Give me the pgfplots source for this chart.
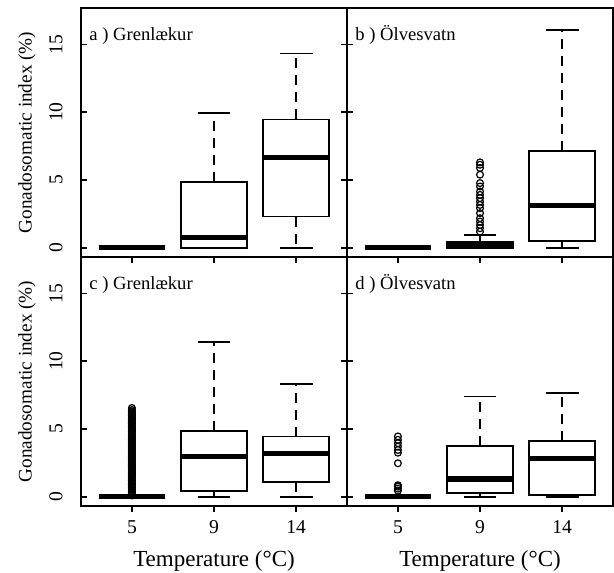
\documentclass[border=0pt]{standalone}
\usepackage{fontspec}
\setmainfont{Liberation Serif}
\usepackage{pgfplots}
\pgfplotsset{compat=1.18}
\usepgfplotslibrary{statistics}

\pgfplotsset{
  gsi/.style={
    scale only axis, width=133pt, height=124.5pt, anchor=south west,
    xmin=0.38, xmax=3.62, ymin=-0.68, ymax=17.68,
    xtick={1,2,3}, xticklabels={5,9,14},
    ytick={0,5,10,15},
    tick align=inside, major tick length=2.8pt,
    axis line style={line width=0.9pt},
    every tick/.style={black, line width=0.8pt},
    every major x tick/.append style={yshift=-2.8pt},
    xtick pos=bottom,
    tick label style={font=\fontsize{9.8}{11}\selectfont},
    /pgf/number format/assume math mode=true,
    yticklabel style={rotate=90, anchor=south, inner sep=0pt, yshift=9pt},
    xticklabel style={anchor=base, inner sep=0pt, yshift=-13.5pt},
    every axis y label/.style={at={(axis description cs:-0.203,0.5)}, rotate=90,
      anchor=center, font=\fontsize{9.6}{11}\selectfont},
    every axis x label/.style={at={(axis description cs:0.5,0)}, anchor=base,
      yshift=-30.3pt, font=\fontsize{11.5}{13}\selectfont},
    boxplot/draw direction=y,
    boxplot/box extend=0.8,
    boxplot/whisker extend=0,
    boxplot/every box/.style={draw=black, line width=0.85pt, fill=white},
    boxplot/every median/.style={draw=black, line width=2.6pt},
    boxplot/every whisker/.style={draw=black, line width=0.75pt, dash pattern=on 5pt off 3.5pt},
  },
  outl/.style={black, mark=o, mark size=1.7pt, mark options={line width=0.6pt, solid}},
  caps/.style={only marks, black, mark=-, mark size=8.2pt, mark options={line width=0.85pt, solid}},
}
\tikzset{plab/.style={anchor=base west, inner sep=0pt, xshift=4pt, yshift=-16.3pt,
    font=\fontsize{9.3}{11}\selectfont}}

\begin{document}
\begin{tikzpicture}
\path[use as bounding box] (0,0) rectangle (307pt,286pt);

% a) Grenlaekur, upper row
\begin{axis}[gsi, at={(40.5pt,157.5pt)}, ytick pos=both, xticklabels={},
  ylabel={Gonadosomatic index (\%)}]
\addplot[boxplot prepared={draw position=1, lower whisker=0, lower quartile=0,
  median=0, upper quartile=0, upper whisker=0}] coordinates {};
\addplot[boxplot prepared={draw position=2, lower whisker=0, lower quartile=0,
  median=0.77, upper quartile=4.87, upper whisker=9.95}] coordinates {};
\addplot[boxplot prepared={draw position=3, lower whisker=0, lower quartile=2.30,
  median=6.67, upper quartile=9.46, upper whisker=14.33}] coordinates {};
\addplot[caps] coordinates {(2,0) (2,9.95) (3,0) (3,14.33)};
\node[plab] at (rel axis cs:0,1) {a ) Grenlækur};
\end{axis}

% b) Olvesvatn, upper row
\begin{axis}[gsi, at={(173.5pt,157.5pt)}, ytick pos=left, yticklabels={}, xticklabels={}]
\addplot[boxplot prepared={draw position=1, lower whisker=0, lower quartile=0,
  median=0, upper quartile=0, upper whisker=0}] coordinates {};
\addplot[outl, boxplot prepared={draw position=2, lower whisker=0, lower quartile=0,
  median=0.15, upper quartile=0.4, upper whisker=0.94}]
  table[row sep=\\, y index=0] {
  1.19\\ 1.44\\ 1.68\\ 1.93\\ 2.18\\ 2.55\\ 2.92\\ 3.16\\ 3.41\\ 3.66\\ 3.90\\
  4.15\\ 4.52\\ 4.77\\ 5.39\\ 5.88\\ 6.12\\ 6.30\\};
\addplot[boxplot prepared={draw position=3, lower whisker=0, lower quartile=0.5,
  median=3.11, upper quartile=7.16, upper whisker=16.05}] coordinates {};
\addplot[caps] coordinates {(2,0.94) (3,0) (3,16.05)};
\node[plab] at (rel axis cs:0,1) {b ) Ölvesvatn};
\end{axis}

% c) Grenlaekur, lower row
\begin{axis}[gsi, at={(40.5pt,33pt)}, ytick pos=both,
  ylabel={Gonadosomatic index (\%)}, xlabel={Temperature (°C)}]
\addplot[outl, boxplot prepared={draw position=1, lower whisker=0, lower quartile=0,
  median=0, upper quartile=0, upper whisker=0}]
  table[row sep=\\, y index=0] {
  0.1\\ 0.2\\ 0.3\\ 0.4\\ 0.5\\ 0.6\\ 0.7\\ 0.8\\ 0.9\\ 1.0\\
  1.1\\ 1.2\\ 1.3\\ 1.4\\ 1.5\\ 1.6\\ 1.7\\ 1.8\\ 1.9\\ 2.0\\
  2.1\\ 2.2\\ 2.3\\ 2.4\\ 2.5\\ 2.6\\ 2.7\\ 2.8\\ 2.9\\ 3.0\\
  3.1\\ 3.2\\ 3.3\\ 3.4\\ 3.5\\ 3.6\\ 3.7\\ 3.8\\ 3.9\\ 4.0\\
  4.1\\ 4.2\\ 4.3\\ 4.4\\ 4.5\\ 4.6\\ 4.7\\ 4.8\\ 4.9\\ 5.0\\
  5.1\\ 5.2\\ 5.3\\ 5.4\\ 5.5\\ 5.6\\ 5.7\\ 5.8\\ 5.9\\ 6.0\\
  6.1\\ 6.2\\ 6.3\\ 6.4\\ 6.55\\};
\addplot[boxplot prepared={draw position=2, lower whisker=0, lower quartile=0.44,
  median=2.98, upper quartile=4.83, upper whisker=11.41}] coordinates {};
\addplot[boxplot prepared={draw position=3, lower whisker=0, lower quartile=1.11,
  median=3.2, upper quartile=4.44, upper whisker=8.33}] coordinates {};
\addplot[caps] coordinates {(2,0) (2,11.41) (3,0) (3,8.33)};
\node[plab] at (rel axis cs:0,1) {c ) Grenlækur};
\end{axis}

% d) Olvesvatn, lower row
\begin{axis}[gsi, at={(173.5pt,33pt)}, ytick pos=left, yticklabels={},
  xlabel={Temperature (°C)}]
\addplot[outl, boxplot prepared={draw position=1, lower whisker=0, lower quartile=0,
  median=0, upper quartile=0, upper whisker=0}]
  table[row sep=\\, y index=0] {
  0.45\\ 0.6\\ 0.75\\ 0.85\\ 2.47\\ 3.25\\ 3.45\\ 3.7\\ 3.95\\ 4.2\\ 4.45\\};
\addplot[boxplot prepared={draw position=2, lower whisker=0, lower quartile=0.27,
  median=1.31, upper quartile=3.72, upper whisker=7.40}] coordinates {};
\addplot[boxplot prepared={draw position=3, lower whisker=0, lower quartile=0.12,
  median=2.81, upper quartile=4.09, upper whisker=7.64}] coordinates {};
\addplot[caps] coordinates {(2,0) (2,7.40) (3,0) (3,7.64)};
\node[plab] at (rel axis cs:0,1) {d ) Ölvesvatn};
\end{axis}
\end{tikzpicture}
\end{document}
